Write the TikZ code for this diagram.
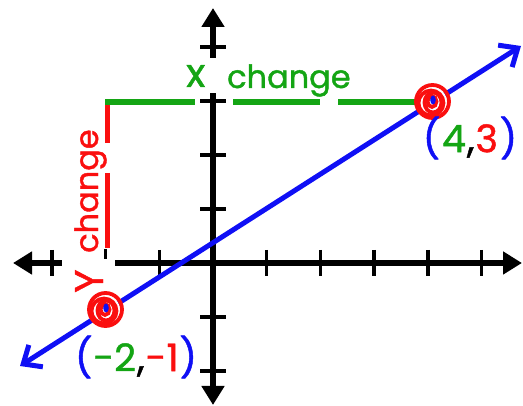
\documentclass[tikz,border=0pt]{standalone}
\usepackage{fontspec}
\setmainfont{Poppins}
\newfontfamily\hand{Poppins}[FakeBold=1.2]
\usetikzlibrary{arrows.meta}
\definecolor{pblue}{RGB}{15,15,245}
\definecolor{pgreen}{RGB}{20,165,20}
\definecolor{pred}{RGB}{250,15,15}
\begin{document}
\begin{tikzpicture}[x=1pt,y=-1pt,
  axis/.style={line width=6pt,{Triangle[length=19pt,width=22pt]}-{Triangle[length=19pt,width=22pt]}},
  tickmark/.style={line width=3.5pt},
  gapline/.style={white,line width=10pt},
  lbl/.style={font=\hand\fontsize{32}{38}\selectfont,inner sep=0pt},
  biglbl/.style={font=\hand\fontsize{40}{44}\selectfont,inner sep=0pt},
  coordlbl/.style={font=\hand\fontsize{38}{42}\selectfont,inner sep=0pt},
  blueline/.style={pblue,line width=5pt,line cap=round,{Straight Barb[length=15pt,width=26pt]}-{Straight Barb[length=15pt,width=26pt]}},
  ptmark/.style={circle,fill=white,minimum size=30pt,inner sep=0pt},
  scribble/.style={pred,line width=3.8pt},
]
\useasboundingbox (0,0) rectangle (523,406);
% axes
\coordinate (xl) at (13,263);
\coordinate (xr) at (522,263);
\coordinate (yt) at (213,8);
\coordinate (yb) at (213,405);
\draw[axis] (xl) -- (xr);
\draw[axis] (yb) -- (yt);
% ticks
\foreach \x in {52,159.3,266.7,320.4,374,427.8,481.5}
  \draw[tickmark] (\x,250) -- (\x,276);
\foreach \y in {47,101,155,209,317,371}
  \draw[tickmark] (200,\y) -- (226,\y);
% halo gaps
\draw[gapline] (213,58) -- (213,93);
\draw[gapline] (62,263) -- (115,263);
\draw[tickmark] (105.6,249) -- (105.6,259);
% change lines
\draw[pgreen,line width=5.5pt] (105,102) -- (195,102);
\draw[pgreen,line width=5.5pt] (233,102) -- (320,102);
\draw[pgreen,line width=5.5pt] (338,102) -- (430,102);
\draw[pred,line width=5pt] (107.5,105) -- (107.5,143);
\draw[pred,line width=5pt] (107.5,173) -- (107.5,248);
% blue line
\coordinate (la) at (20,366);
\coordinate (lb) at (521,46);
\draw[blueline] (la) -- (lb);
% points
\node[ptmark] (P) at (432,102) {};
\node[ptmark] (Q) at (105,310) {};
\foreach \p in {P,Q}{
  \draw[scribble] ([shift={(0.5,-0.5)}]\p) circle (16.5pt);
  \draw[scribble] ([shift={(-1,1)}]\p) circle (12.5pt);
  \draw[scribble] ([shift={(1,0.5)}]\p) ellipse (8.5pt and 10pt);
  \draw[scribble] ([shift={(0,-0.5)}]\p) ellipse (4.5pt and 5.5pt);
  \fill[pblue] ([shift={(1,-2)}]\p) ellipse (2.8pt and 4.5pt);
}
% texts
\node[biglbl,text=pgreen,anchor=base west] (xlab) at (186,87) {x};
\node[lbl,text=pgreen,anchor=base west] (xch) at (227,88) {change};
\node[biglbl,text=pred,rotate=90,anchor=base west] (ylab) at (103,293) {Y};
\node[lbl,text=pred,rotate=90,anchor=base west] (ych) at (98,253) {change};
\node[coordlbl] (Plab) at (470,138) {{\color{pblue}(}\hspace{2pt}{\color{pgreen}4}\hspace{1pt}{\color{black},}\hspace{1pt}{\color{pred}3}\hspace{2pt}{\color{pblue})}};
\node[coordlbl] (Qlab) at (136,357) {{\color{pblue}(}\hspace{1pt}{\color{pgreen}-2}\hspace{1pt}{\color{black},}\hspace{1pt}{\color{pred}-1}\hspace{1pt}{\color{pblue})}};
\end{tikzpicture}
\end{document}
